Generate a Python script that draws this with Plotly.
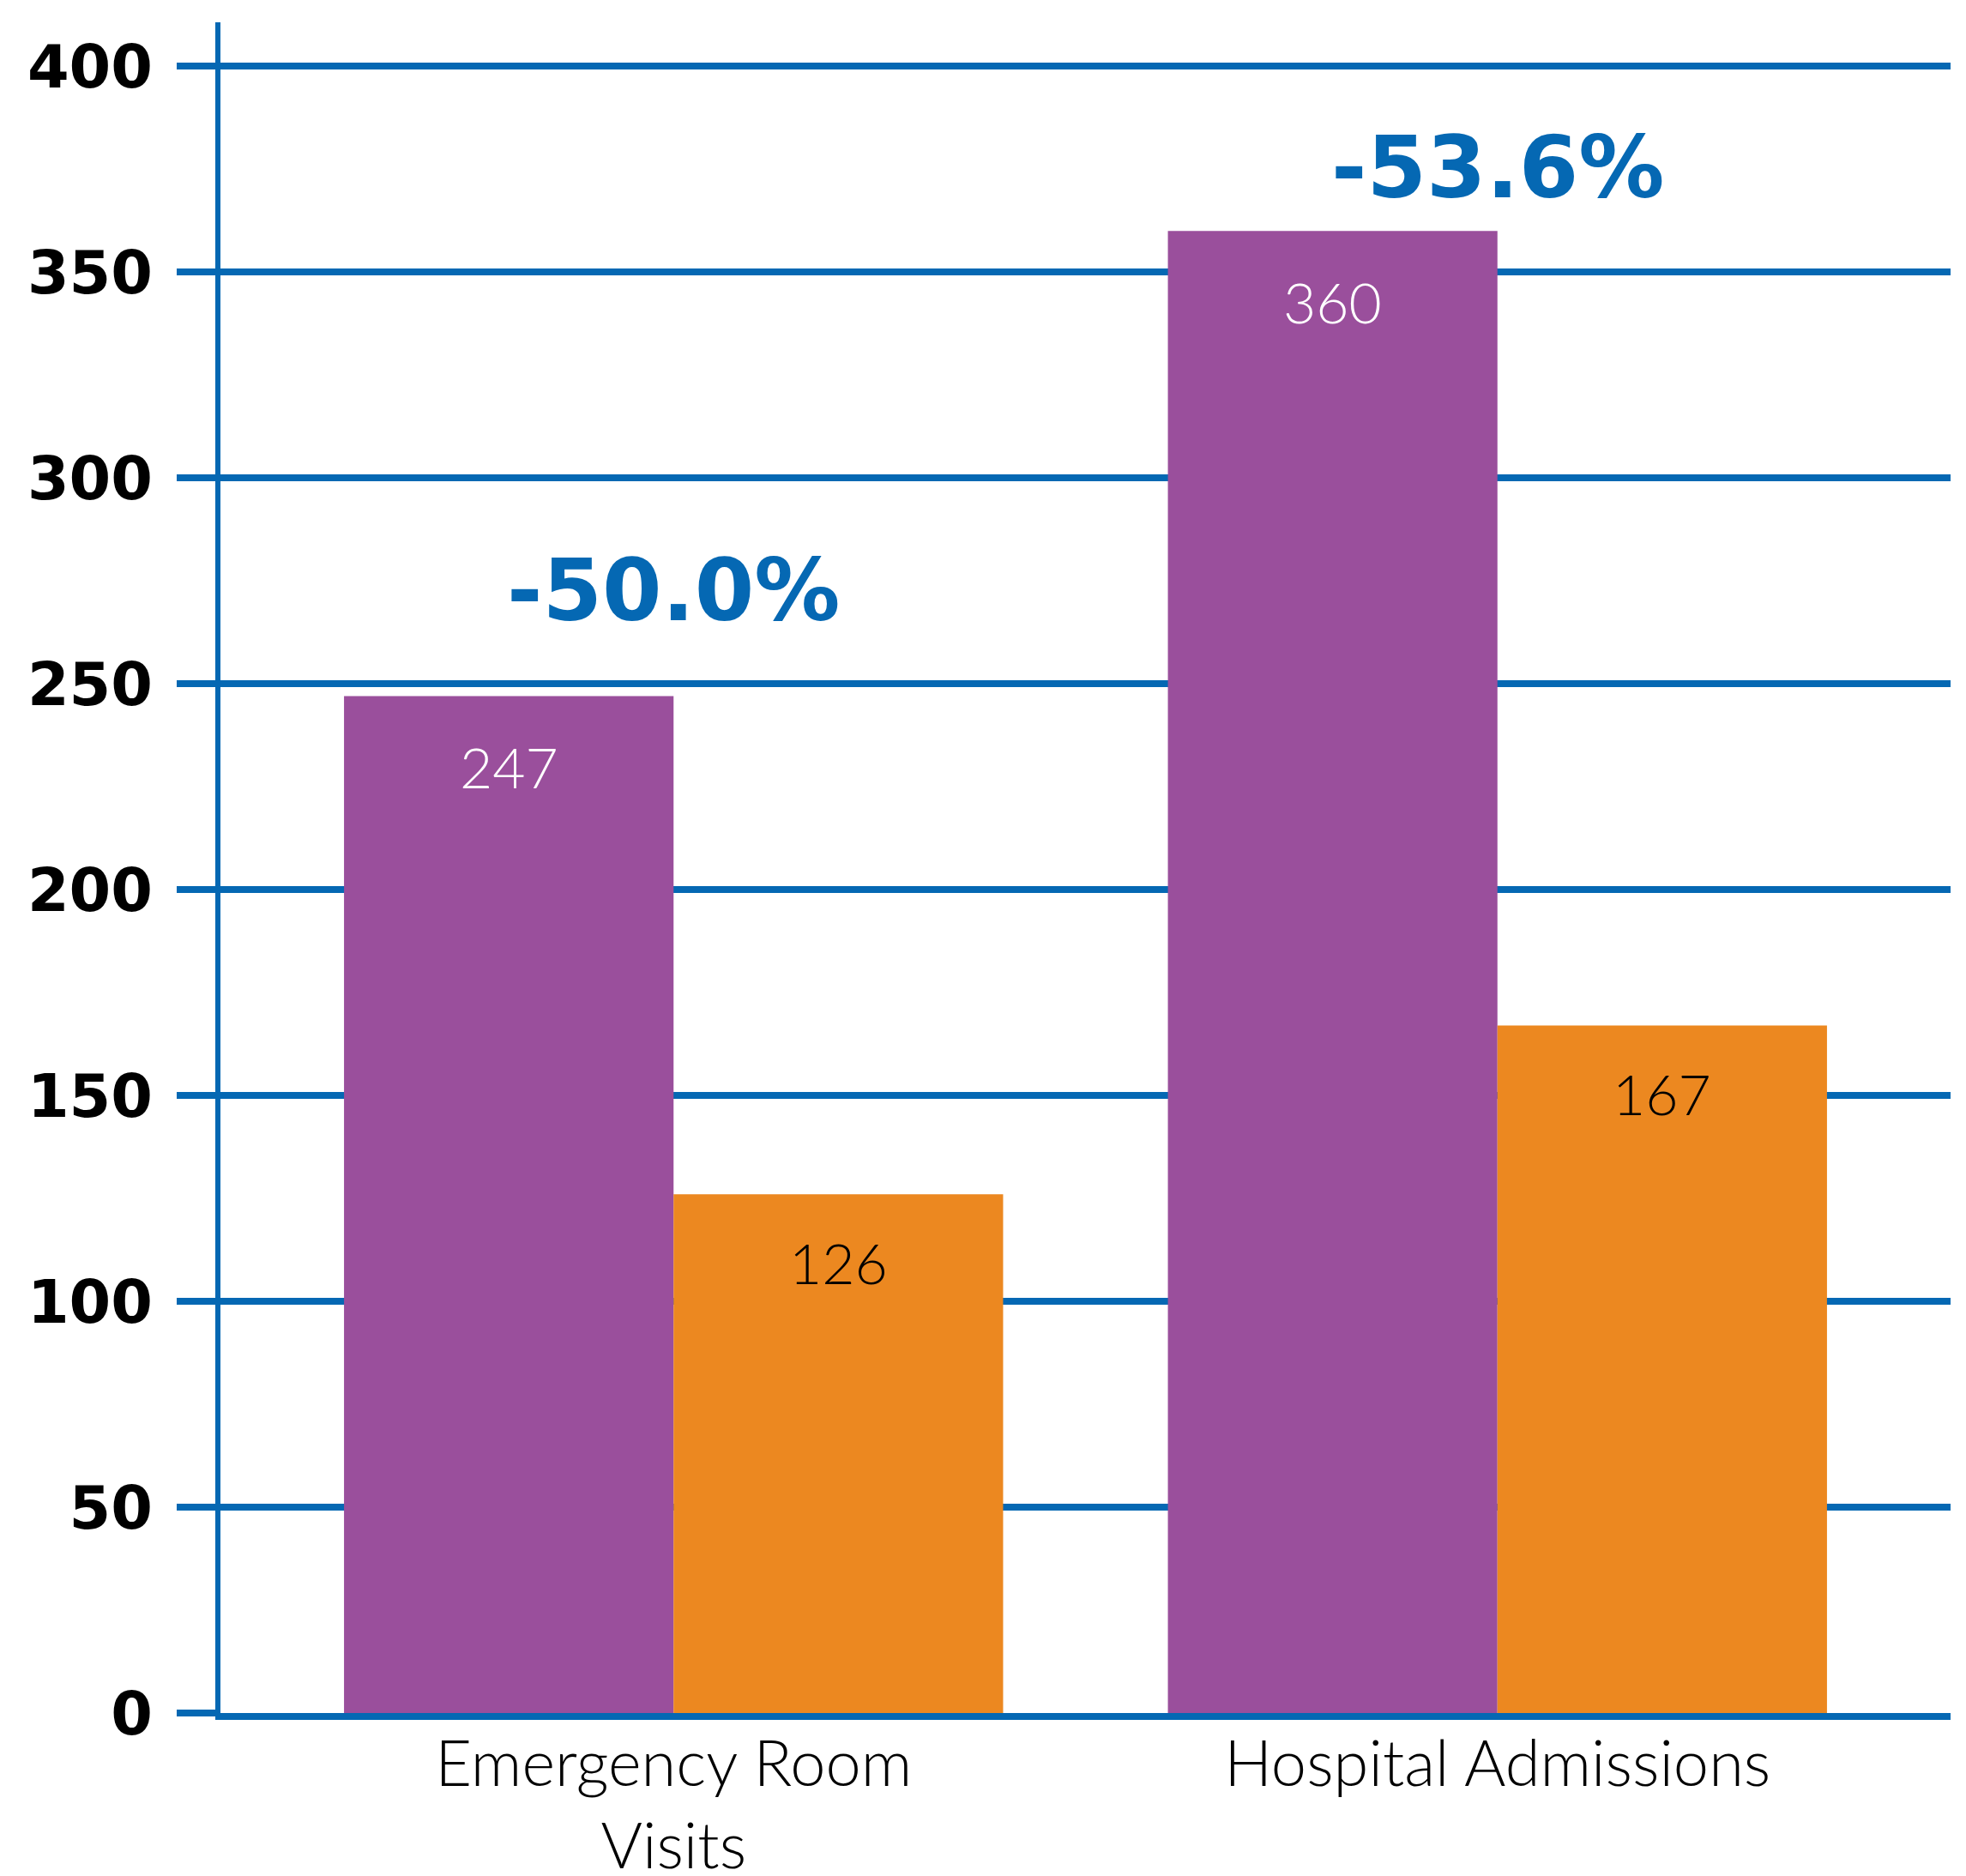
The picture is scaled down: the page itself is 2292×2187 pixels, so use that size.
import plotly.graph_objects as go

categories = ["Emergency Room<br>Visits", "Hospital Admissions"]
before_values = [247, 360]
after_values = [126, 167]
pct_labels = ["-50.0%", "-53.6%"]
pct_label_y = [272.6, 375.3]
y_ticks = [0, 50, 100, 150, 200, 250, 300, 350, 400]

BLUE = "#0568B3"
PURPLE = "#9A4F9C"
ORANGE = "#EC8820"

# page body has an 8px default margin; compensate so the plot lands where wanted
OFF = 8
W, H = 2292 - OFF, 2187 - OFF
L, R, T, B = 257 - OFF, 18, 26 - OFF, 190

fig = go.Figure()
fig.add_trace(go.Bar(x=categories, y=before_values, marker=dict(color=PURPLE, line=dict(width=0)), name="Before"))
fig.add_trace(go.Bar(x=categories, y=after_values, marker=dict(color=ORANGE, line=dict(width=0)), name="After"))

annotations = []
for i, cat in enumerate(categories):
    annotations.append(dict(x=i - 0.2, xref="x", y=before_values[i], yref="y", text=str(before_values[i]),
                            showarrow=False, yshift=-82, yanchor="middle",
                            font=dict(family="Lato", size=66, color="white", weight=300)))
    annotations.append(dict(x=i + 0.2, xref="x", y=after_values[i], yref="y", text=str(after_values[i]),
                            showarrow=False, yshift=-79, yanchor="middle",
                            font=dict(family="Lato", size=66, color="black", weight=300)))
    annotations.append(dict(x=i, xref="x", y=pct_label_y[i], yref="y", text=pct_labels[i],
                            showarrow=False, yanchor="middle",
                            font=dict(family="DejaVu Sans", size=100, color=BLUE, weight=700)))

fig.update_layout(
    width=W, height=H,
    margin=dict(l=L, r=R, t=T, b=B, pad=0),
    paper_bgcolor="white", plot_bgcolor="white",
    barmode="group", bargap=0.2, bargroupgap=0,
    showlegend=False,
    annotations=annotations,
)
fig.update_xaxes(
    type="category", range=[-0.55, 1.55], automargin=False,
    showgrid=False, zeroline=False,
    showline=True, linecolor=BLUE, linewidth=8,
    ticks="", ticklabelstandoff=-12,
    tickfont=dict(family="Lato", size=74, color="black", weight=300),
)
fig.update_yaxes(
    range=[0, 410.7], tickvals=y_ticks, automargin=False,
    showgrid=True, gridcolor=BLUE, gridwidth=8,
    zeroline=False,
    showline=True, linecolor=BLUE, linewidth=6,
    ticks="outside", ticklen=45, tickwidth=8, tickcolor=BLUE,
    ticklabelstandoff=14,
    tickfont=dict(family="DejaVu Sans", size=70, color="black", weight=700),
)

fig.write_html("out.html")
